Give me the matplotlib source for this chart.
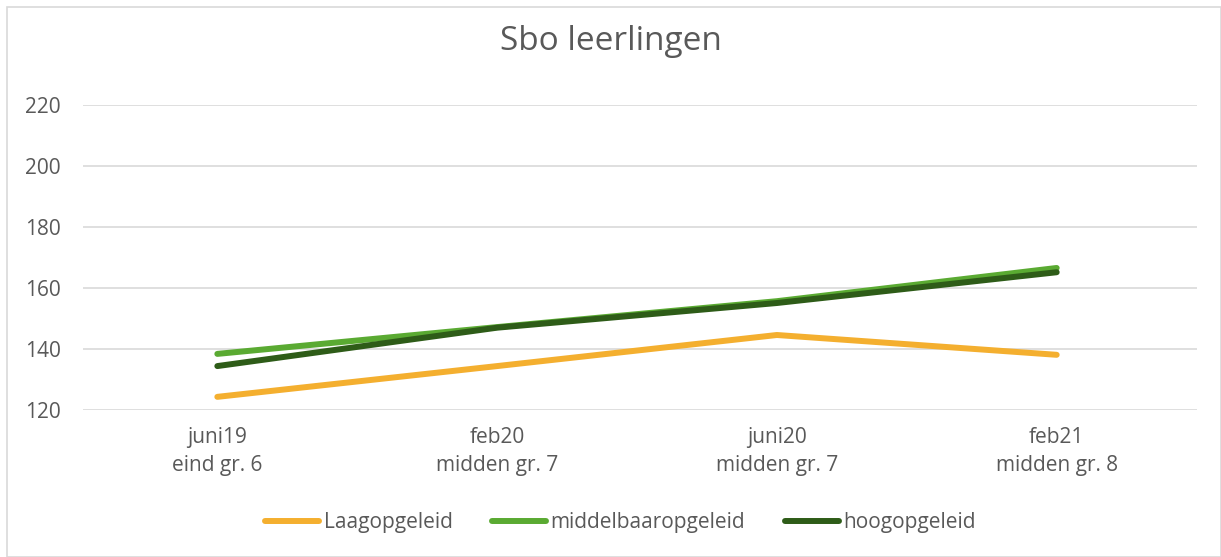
import matplotlib.pyplot as plt
from matplotlib.patches import Rectangle

plt.rcParams["font.family"] = ["Open Sans", "DejaVu Sans"]

# data
categories = ["juni19\neind gr. 6", "feb20\nmidden gr. 7", "juni20\nmidden gr. 7", "feb21\nmidden gr. 8"]
laag = [124.3, 134.4, 144.6, 138.1]
middel = [138.4, 147.2, 155.7, 166.6]
hoog = [134.4, 147.0, 155.1, 165.2]
series_names = ["Laagopgeleid", "middelbaaropgeleid", "hoogopgeleid"]
colors = ["#F4AF2F", "#5AAA32", "#2E5C18"]
yticks = [120, 140, 160, 180, 200, 220]

fig = plt.figure(figsize=(12.21, 5.57), dpi=100)
ax = fig.add_axes([0.068, 0.264, 0.912, 0.547])

# kader rond de grafiek
fig.patches.append(Rectangle((7 / 1221, 0), 1 - 7 / 1221, 1 - 7 / 557, transform=fig.transFigure,
                             fill=False, edgecolor="#D9D9D9", linewidth=1.2))

x = range(len(categories))
for vals, name, c in zip([laag, middel, hoog], series_names, colors):
    ax.plot(x, vals, color=c, linewidth=4.3, solid_capstyle="round", solid_joinstyle="round", label=name)

ax.set_xlim(-0.48, 3.5)
ax.set_ylim(120, 220)
ax.set_yticks(yticks)
ax.set_xticks(list(x))
ax.set_xticklabels(categories, fontsize=15, color="#595959", linespacing=1.45)
ax.tick_params(axis="y", labelsize=15, labelcolor="#595959", length=0, pad=16)
ax.tick_params(axis="x", length=0, pad=12)
ax.grid(axis="y", color="#D9D9D9", linewidth=1.2)
ax.set_axisbelow(True)
for s in ax.spines.values():
    s.set_visible(False)

fig.text(0.5, 0.925, "Sbo leerlingen", ha="center", va="center", fontsize=24, color="#595959")

fig.legend(loc="center", bbox_to_anchor=(0.508, 0.062), ncol=3, frameon=False, fontsize=15,
           handlelength=2.6, handletextpad=0.2, columnspacing=1.9, labelcolor="#595959")

fig.savefig("out.png", dpi=100)
